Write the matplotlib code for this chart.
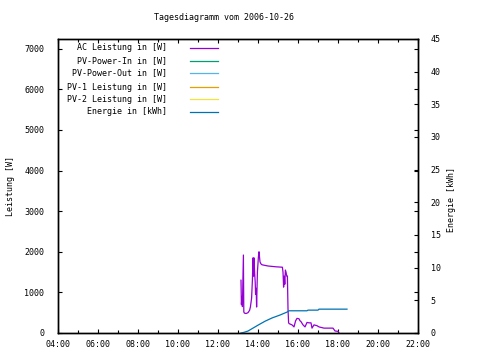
import matplotlib
matplotlib.use("Agg")
import matplotlib.pyplot as plt
from matplotlib.ticker import MultipleLocator, FuncFormatter

# ---- data (hours of day) ----
ac_time = [13.15, 13.17, 13.2, 13.22, 13.27, 13.29, 13.32, 13.4, 13.5, 13.58, 13.62,
           13.68, 13.72, 13.75, 13.78, 13.8, 13.83, 13.86, 13.88, 13.91, 13.93,
           13.97, 14.02, 14.05, 14.1, 14.15, 14.2, 14.5, 14.9, 15.22, 15.25,
           15.28, 15.31, 15.34, 15.37, 15.4, 15.44, 15.47, 15.5, 15.53, 15.56,
           15.7, 15.8, 15.88, 15.95, 16.05, 16.1, 16.15, 16.25, 16.35, 16.45,
           16.55, 16.65, 16.7, 16.8, 16.95, 17.05, 17.3, 17.75, 17.85, 18.0, 18.05]
ac_power = [1300, 700, 900, 650, 1920, 520, 490, 480, 500, 560, 640,
            860, 1300, 1850, 1400, 1850, 1500, 1250, 950, 1100, 640,
            1500, 1870, 2000, 1750, 1700, 1680, 1650, 1630, 1620, 1500,
            1130, 1400, 1200, 1550, 1500, 1400, 1400, 600, 250, 230,
            200, 150, 300, 360, 350, 300, 280, 200, 150, 260,
            250, 250, 120, 200, 180, 150, 120, 120, 50, 40, 0]

en_time = [13.15, 13.3, 13.5, 13.75, 14.0, 14.35, 14.7, 15.1, 15.45, 15.55,
           16.45, 16.5, 17.0, 17.05, 18.45]
en_kwh = [0.0, 0.1, 0.3, 0.75, 1.2, 1.8, 2.3, 2.75, 3.2, 3.4,
          3.4, 3.5, 3.5, 3.65, 3.65]

legend_labels = ["AC Leistung in [W]", "PV-Power-In in [W]", "PV-Power-Out in [W]",
                 "PV-1 Leistung in [W]", "PV-2 Leistung in [W]", "Energie in [kWh]"]
legend_colors = ["#9400D3", "#009E73", "#56B4E9", "#E69F00", "#F0E442", "#0072B2"]

title = "Tagesdiagramm vom 2006-10-26"

FONT = "DejaVu Sans Mono"
FS = 6

W, H = 480, 360
fig = plt.figure(figsize=(4.8, 3.6), dpi=100)
L, R, T, B = 58, 418, 39, 333
ax = fig.add_axes([L / W, 1 - B / H, (R - L) / W, (B - T) / H])
ax2 = ax.twinx()

ax.set_xlim(4, 22)
ax.set_ylim(0, 7240)
ax2.set_ylim(0, 45)

lw = 0.9
ax.plot(ac_time, ac_power, color=legend_colors[0], lw=lw)
ax2.plot(en_time, en_kwh, color=legend_colors[5], lw=lw)

for a in (ax, ax2):
    for s in a.spines.values():
        s.set_linewidth(1.0)
        s.set_color("black")

ax.xaxis.set_major_locator(MultipleLocator(2))
ax.xaxis.set_minor_locator(MultipleLocator(1))
ax.xaxis.set_major_formatter(FuncFormatter(lambda v, p: "%02d:00" % int(round(v))))
ax.yaxis.set_major_locator(MultipleLocator(1000))
ax2.yaxis.set_major_locator(MultipleLocator(5))

ax.tick_params(axis="both", which="both", direction="in", top=True, right=True,
               labelsize=FS, width=0.8, color="black")
ax.tick_params(axis="both", which="major", length=3)
ax.tick_params(axis="both", which="minor", length=2)
ax.tick_params(axis="x", pad=5)
ax.tick_params(axis="y", pad=10)
ax2.tick_params(axis="y", direction="in", length=3, width=0.8, labelsize=FS, pad=9)

for lab in ax.get_xticklabels() + ax.get_yticklabels() + ax2.get_yticklabels():
    lab.set_family(FONT)

fig.text(224 / W, 1 - 17 / H, title, ha="center", va="center", family=FONT, fontsize=FS)
fig.text(11 / W, 1 - 186 / H, "Leistung [W]", rotation=90, ha="center", va="center",
         family=FONT, fontsize=FS)
fig.text(452 / W, 1 - 200 / H, "Energie [kWh]", rotation=90, ha="center", va="center",
         family=FONT, fontsize=FS)

# legend (gnuplot-style: right-aligned text, sample line to the right)
row_y = [48, 61, 73, 87, 99, 112]
for lbl, col, yy in zip(legend_labels, legend_colors, row_y):
    fig.text(167 / W, 1 - yy / H, lbl, ha="right", va="center", family=FONT, fontsize=FS)
    fig.add_artist(plt.Line2D([190 / W, 218 / W], [1 - yy / H, 1 - yy / H],
                              color=col, lw=lw, transform=fig.transFigure))

fig.savefig("out.png", dpi=100)
